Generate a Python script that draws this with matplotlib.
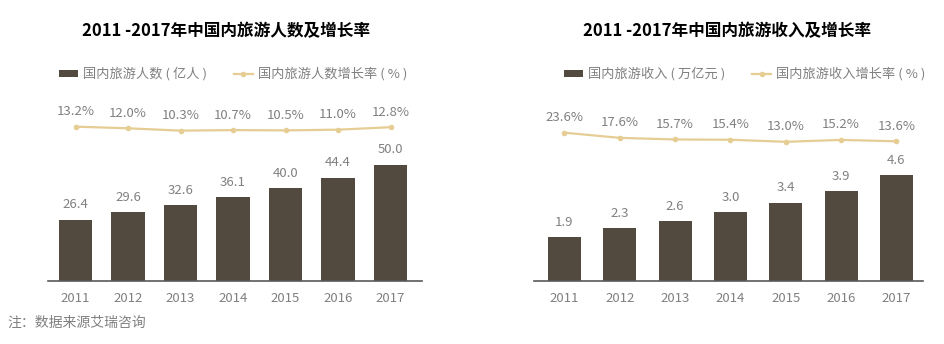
import matplotlib
matplotlib.use("Agg")
import matplotlib.pyplot as plt
from matplotlib.patches import Patch
from matplotlib.lines import Line2D

plt.rcParams['font.family'] = ['Noto Sans CJK SC', 'DejaVu Sans']

# data
years = ['2011', '2012', '2013', '2014', '2015', '2016', '2017']
visitors = [26.4, 29.6, 32.6, 36.1, 40.0, 44.4, 50.0]      # 亿人
visitor_growth = [13.2, 12.0, 10.3, 10.7, 10.5, 11.0, 12.8]  # %
revenue = [1.9, 2.3, 2.6, 3.0, 3.4, 3.9, 4.6]               # 万亿元
revenue_growth = [23.6, 17.6, 15.7, 15.4, 13.0, 15.2, 13.6]  # %

BAR = '#524a3f'
LINE = '#e5cd94'
GRAY = '#808080'
AXIS = '#595959'

W, H = 945, 344
fig = plt.figure(figsize=(W / 100, H / 100), dpi=100)


def px_axes(x0, x1, y_top, y_bot):
    return fig.add_axes([x0 / W, 1 - y_bot / H, (x1 - x0) / W, (y_bot - y_top) / H])


def draw_panel(x0, x1, bars, growth, bar_ylim, line_ylim, xlim, width, fmt):
    ax = px_axes(x0, x1, 100, 281)
    x = list(range(len(years)))
    ax.bar(x, bars, width=width, color=BAR, zorder=2)
    ax.set_ylim(*bar_ylim)
    ax.set_xlim(*xlim)
    for xi, v in zip(x, bars):
        ax.annotate(fmt.format(v), (xi, v), xytext=(0, 15), textcoords='offset pixels',
                    ha='center', va='center', fontsize=9.5, color=GRAY)
    for s in ['top', 'right', 'left']:
        ax.spines[s].set_visible(False)
    ax.spines['bottom'].set_color(AXIS)
    ax.spines['bottom'].set_linewidth(1.2)
    ax.set_yticks([])
    ax.set_xticks(x)
    ax.set_xticklabels(years, fontsize=9.5, color=GRAY)
    ax.tick_params(axis='x', length=0, pad=8)

    ax2 = ax.twinx()
    ax2.plot(x, growth, color=LINE, lw=1.6, marker='o', ms=3, zorder=3)
    ax2.set_ylim(*line_ylim)
    ax2.set_xlim(*xlim)
    ax2.axis('off')
    for xi, v in zip(x, growth):
        ax2.annotate(f'{v:.1f}%', (xi, v), xytext=(0, 15), textcoords='offset pixels',
                     ha='center', va='center', fontsize=9.5, color=GRAY)
    return ax


draw_panel(48, 422, visitors, visitor_growth, (0, 78), (-98.6, 32.5),
           (-0.524, 6.6), 0.63, '{:.1f}')
draw_panel(534, 923, revenue, revenue_growth, (0, 7.87), (-148.8, 61.6),
           (-0.55, 6.48), 0.6, '{:.1f}')

# titles
fig.text(226 / W, 1 - 31 / H, '2011 -2017年中国内旅游人数及增长率', ha='center', va='center',
         fontsize=12, fontweight='bold', color='black')
fig.text(727 / W, 1 - 31 / H, '2011 -2017年中国内旅游收入及增长率', ha='center', va='center',
         fontsize=12, fontweight='bold', color='black')


def add_legend(x_left, bar_label, line_label):
    handles = [Patch(facecolor=BAR, edgecolor='none'),
               Line2D([0], [0], color=LINE, lw=1.6, marker='o', ms=3)]
    fig.legend(handles, [bar_label, line_label], loc='center left',
               bbox_to_anchor=(x_left / W, 1 - 74 / H), ncol=2, frameon=False,
               fontsize=9.5, labelcolor=GRAY, borderpad=0, borderaxespad=0,
               handlelength=1.45, handleheight=0.45, handletextpad=0.4,
               columnspacing=2.0)


add_legend(59, '国内旅游人数 ( 亿人 )', '国内旅游人数增长率 ( % )')
add_legend(564, '国内旅游收入 ( 万亿元 )', '国内旅游收入增长率 ( % )')

fig.text(7 / W, 1 - 323 / H, '注：数据来源艾瑞咨询', ha='left', va='center',
         fontsize=10, color=GRAY)

fig.savefig('out.png', dpi=100)
